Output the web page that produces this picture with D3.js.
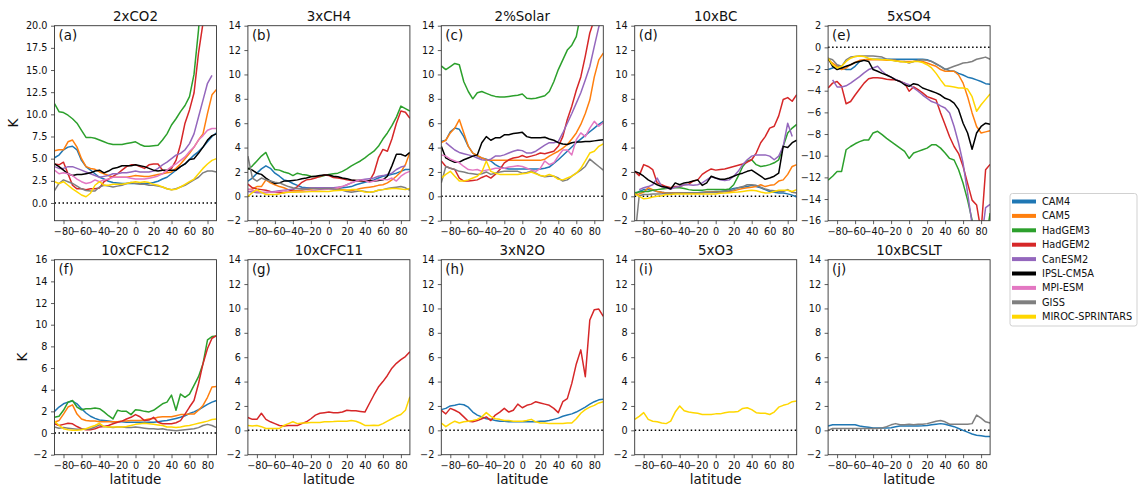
<!DOCTYPE html>
<html lang="en">
<head>
<meta charset="UTF-8" />
<title>Zonal mean temperature response</title>
<script src="https://d3js.org/d3.v7.min.js"></script>
<style>
  body { margin: 0; background: #fff; }
  svg { display: block; font-family: "DejaVu Sans", sans-serif; }
</style>
</head>
<body>
<svg id="chart" width="1139" height="491"></svg>
<script>
// latitude grid (degrees) shared by every series
const lat = [-90,-85,-80,-75,-70,-65,-60,-55,-50,-45,-40,-35,-30,-25,-20,-15,-10,-5,0,5,10,15,20,25,30,35,40,45,50,55,60,65,70,75,80,85,90];

const models = ["CAM4","CAM5","HadGEM3","HadGEM2","CanESM2","IPSL-CM5A","MPI-ESM","GISS","MIROC-SPRINTARS"];
const modelColors = ["#1f77b4","#ff7f0e","#2ca02c","#d62728","#9467bd","#000000","#e377c2","#7f7f7f","#ffd700"];

const xTicks = [-80,-60,-40,-20,0,20,40,60,80];
const yTicksCO2 = [0,2.5,5,7.5,10,12.5,15,17.5,20];
const yTicksStd = [-2,0,2,4,6,8,10,12,14];
const yTicksSO4 = [-16,-14,-12,-10,-8,-6,-4,-2,0,2];
const yTicksCFC12 = [-2,0,2,4,6,8,10,12,14,16];

// (a) 2xCO2
const co2 = {
  "CAM4": [5.1,5.4,6.0,6.3,6.4,6.0,4.8,4.1,3.7, 3.3,2.9,2.7,2.45,2.3,2.25,2.2,2.2,2.2, 2.2,2.2,2.2,2.2,2.3,2.45,2.7,2.9,3.3, 3.7,4.1,4.4,4.9,5.4,5.8,6.3,6.9,7.5,7.9],
  "CAM5": [5.9,6.0,6.0,6.9,7.1,6.3,5.0,4.1,3.9, 3.8,3.5,3.3,3.1,2.9,2.9,2.9,2.9,3.0, 3.1,3.05,3.0,3.0,3.1,3.2,3.3,3.4,3.5, 3.9,4.4,5.0,5.6,6.3,7.1,7.8,10.1,12.2,12.8],
  "HadGEM3": [11.2,10.3,10.2,9.9,9.5,9.0,8.2,7.4,7.4, 7.3,7.1,6.9,6.7,6.6,6.6,6.6,6.7,6.8, 6.9,6.6,6.4,6.4,6.45,6.5,7.1,7.8,8.8, 9.5,10.3,11.0,12.0,14.5,19.5,26,28,30,30],
  "HadGEM2": [4.4,4.3,4.6,3.3,2.0,1.6,1.6,1.5,1.6, 1.6,1.7,2.4,2.7,3.0,3.3,3.7,4.1,4.3, 4.3,4.1,3.9,4.3,4.4,4.4,3.7,3.6,3.9, 4.8,6.6,9.0,10.5,12.4,16.9,20.3,23,25,26],
  "CanESM2": [4.1,3.9,3.9,4.1,4.1,3.9,3.7,3.5,3.3, 3.1,2.9,3.0,3.1,3.3,3.3,3.4,3.4,3.5, 3.6,3.5,3.5,3.5,3.6,3.9,4.3,4.6,5.0, 5.4,5.6,6.0,6.7,7.8,9.7,11.6,13.5,14.4,null],
  "IPSL-CM5A": [4.4,4.1,3.7,3.3,3.1,3.2,3.2,3.3,3.4, 3.6,3.7,3.4,3.6,3.9,4.0,4.2,4.2,4.2, 4.3,4.2,4.1,3.9,3.7,3.6,3.7,3.7,3.7, 3.7,4.1,4.4,4.9,5.0,5.6,6.3,7.1,7.6,7.8],
  "MPI-ESM": [3.7,3.3,3.4,3.3,3.1,2.7,2.4,2.2,2.3, 2.6,2.4,2.6,2.7,2.9,2.9,2.9,2.9,2.8, 2.7,2.7,2.7,2.8,2.9,3.05,3.3,3.7,4.1, 4.4,4.8,5.2,5.8,6.3,7.1,7.6,8.2,8.4,8.4],
  "GISS": [1.4,2.2,2.6,2.4,2.2,1.9,1.6,1.4,1.35, 1.35,1.8,2.0,1.9,1.8,1.9,2.0,2.2,2.3, 2.2,2.1,2.1,2.0,2.0,1.9,1.8,1.6,1.5, 1.6,1.8,2.0,2.3,2.6,2.9,3.4,3.6,3.6,3.5],
  "MIROC-SPRINTARS": [2.4,2.2,2.4,2.0,1.6,1.25,0.9,0.7,1.1, 2.0,2.4,2.0,2.0,2.1,2.1,2.1,2.2,2.3, 2.4,2.3,2.4,2.3,2.1,2.0,1.8,1.6,1.5, 1.55,1.8,2.1,2.4,2.7,3.3,3.9,4.4,4.8,5.0]
};

// (b) 3xCH4
const ch4 = {
  "CAM4": [1.25,1.5,1.9,2.25,2.5,2.3,1.9,1.65,1.35, 1.25,1.05,0.9,0.75,0.7,0.7,0.65,0.65,0.65, 0.65,0.65,0.65,0.7,0.75,0.8,0.95,1.05,1.15, 1.25,1.35,1.5,1.65,1.7,1.8,1.9,2.05,2.2,2.2],
  "CAM5": [0.55,0.6,0.8,0.8,1.35,1.1,0.95,0.8,0.7, 0.55,0.45,0.45,0.5,0.55,0.6,0.65,0.65,0.65, 0.65,0.65,0.6,0.55,0.5,0.45,0.55,0.65,0.7, 0.75,0.8,0.9,0.95,1.1,1.35,1.65,2.0,2.6,3.6],
  "HadGEM3": [2.2,2.5,2.9,3.3,3.6,2.75,2.2,2.15,2.0, 1.9,1.7,1.9,1.8,1.75,1.65,1.6,1.6,1.7, 1.8,1.85,1.9,2.05,2.25,2.5,2.7,2.9,3.15, 3.45,3.7,4.1,4.7,5.2,5.8,6.5,7.4,7.2,7.0],
  "HadGEM2": [1.0,0.7,0.6,0.55,0.5,0.4,0.35,0.3,0.3, 0.4,0.55,0.8,1.15,1.35,1.4,1.5,1.65,1.75, 1.7,1.55,1.5,1.45,1.35,1.3,1.3,1.25,1.25, 1.25,1.9,3.15,3.85,3.7,4.7,6.0,7.0,6.9,6.4],
  "CanESM2": [0.4,0.35,0.3,0.3,0.3,0.35,0.4,0.45,0.5, 0.55,0.6,0.65,0.65,0.65,0.7,0.7,0.7,0.7, 0.7,0.7,0.75,0.8,0.95,1.1,1.25,1.35,1.4, 1.45,1.5,1.65,1.7,1.8,1.9,2.2,2.4,2.5,null],
  "IPSL-CM5A": [2.3,2.15,1.9,1.8,1.5,1.25,1.05,1.1,1.25, 1.25,1.3,1.35,1.45,1.5,1.6,1.65,1.7,1.75, 1.75,1.65,1.6,1.5,1.45,1.35,1.3,1.3,1.25, 1.25,1.25,1.3,1.35,1.65,2.5,3.45,3.45,3.3,3.6],
  "MPI-ESM": [0.6,0.5,0.4,0.35,0.33,0.33,0.35,0.4,0.45, 0.4,0.35,0.38,0.4,0.42,0.45,0.5,0.55,0.55, 0.6,0.6,0.7,0.8,0.95,1.1,1.25,1.35,1.3, 1.15,1.25,1.35,1.4,1.35,1.5,1.25,1.65,1.9,2.05],
  "GISS": [3.3,1.5,1.25,1.5,1.35,1.25,1.15,1.1,0.95, 0.8,0.7,0.65,0.6,0.6,0.65,0.65,0.6,0.65, 0.65,0.6,0.55,0.5,0.4,0.33,0.4,0.45,0.4, 0.33,0.38,0.5,0.55,0.65,0.7,0.75,0.8,0.7,0.5],
  "MIROC-SPRINTARS": [0.0,0.3,0.55,0.33,0.15,0.15,0.15,0.2,0.3, 0.33,0.33,0.35,0.35,0.37,0.4,0.4,0.42,0.4, 0.4,0.45,0.48,0.5,0.5,0.55,0.55,0.45,0.35, 0.33,0.4,0.5,0.55,0.6,0.65,0.65,0.6,0.55,0.65]
};

// (c) 2%Solar
const solar = {
  "CAM4": [4.5,4.6,5.3,5.6,5.5,4.9,4.1,3.55,3.3, 3.15,3.05,2.9,2.6,2.4,2.3,2.25,2.25,2.25, 2.25,2.25,2.25,2.25,2.25,2.3,2.4,2.7,3.0, 3.35,3.7,4.05,4.4,4.7,5.0,5.3,5.6,5.9,6.15],
  "CAM5": [4.4,4.6,5.2,5.6,6.3,5.2,4.1,3.55,3.35, 3.15,3.0,2.95,2.95,2.95,2.95,2.95,2.95,2.95, 2.95,2.95,2.95,2.95,2.95,3.05,3.3,3.5,3.7, 3.95,4.25,4.7,5.2,5.9,6.8,7.9,9.8,11.2,11.75],
  "HadGEM3": [10.7,10.4,10.65,10.9,10.8,9.4,8.6,8.0,8.5, 8.6,8.45,8.3,8.2,8.15,8.15,8.2,8.25,8.3, 8.4,8.05,8.0,8.05,8.15,8.25,8.6,9.4,10.4, 11.2,12.0,12.4,13.1,15,17,19,21,22,23],
  "HadGEM2": [2.9,2.45,2.3,2.2,1.5,1.25,1.25,1.3,1.35, 1.55,1.7,1.5,1.8,2.2,2.75,3.0,3.15,3.2, 3.35,3.2,3.3,3.4,3.55,3.5,3.6,3.7,4.1, 4.9,6.3,7.4,8.7,9.8,11.5,13.4,14.5,16,17],
  "CanESM2": [null,4.4,4.1,3.8,3.6,3.5,3.4,3.3,3.15, 3.0,2.95,3.05,3.3,3.3,3.4,3.55,3.7,3.8, 3.75,3.55,3.55,3.7,3.95,4.2,4.4,4.4,4.5, 5.2,6.0,6.8,7.65,8.5,9.55,10.65,12.3,13.9,15],
  "IPSL-CM5A": [4.1,3.15,2.95,2.8,2.8,3.0,3.15,3.3,3.4, 4.4,4.9,4.6,4.8,4.8,5.05,5.05,5.15,5.2, 5.25,4.9,4.8,4.8,4.8,4.85,4.7,4.6,4.4, 4.3,4.25,4.4,4.45,4.45,4.5,4.5,4.55,4.6,4.65],
  "MPI-ESM": [3.4,3.3,3.05,2.9,2.75,2.45,2.2,2.15,2.2, 2.05,2.15,2.2,2.3,2.3,2.3,2.4,2.45,2.5, 2.45,2.3,2.15,2.05,2.3,2.9,2.6,2.75,3.3, 3.8,3.8,3.4,4.65,5.2,4.9,5.6,6.15,5.75,6.05],
  "GISS": [1.1,2.45,2.3,2.2,2.05,2.0,1.9,1.85,1.8, 1.85,2.0,1.8,1.9,2.0,2.05,2.05,2.05,2.05, 1.9,1.95,2.05,1.9,1.7,1.6,1.65,1.65,1.5, 1.25,1.35,1.65,1.9,2.15,2.45,3.05,2.75,2.45,2.15],
  "MIROC-SPRINTARS": [1.5,1.8,2.05,1.65,1.25,1.25,1.35,1.5,1.65, 2.0,2.9,2.05,1.9,1.8,1.8,1.8,1.8,1.8, 1.85,1.9,2.0,1.85,1.7,1.65,1.8,1.65,1.4, 1.35,1.5,1.65,1.9,2.3,2.9,3.55,3.7,4.1,4.3]
};

// (d) 10xBC
const bc = {
  "CAM4": [0.15,0.4,0.55,0.55,0.5,0.4,0.33,0.27,0.27, 0.27,0.27,0.27,0.27,0.27,0.3,0.33,0.33,0.35, 0.4,0.4,0.45,0.55,0.65,0.7,0.75,0.8,0.9, 0.8,0.7,0.55,0.4,0.33,0.27,0.27,0.2,0.1,-0.05],
  "CAM5": [0.15,0.2,0.33,0.7,0.55,0.4,0.33,0.27,0.27, 0.27,0.27,0.27,0.27,0.27,0.27,0.3,0.35,0.35, 0.35,0.35,0.4,0.4,0.45,0.55,0.65,0.7,0.75, 0.8,0.95,0.8,0.9,0.95,1.25,1.35,1.8,2.45,2.6],
  "HadGEM3": [0.3,0.35,0.4,0.4,0.5,0.55,0.6,0.65,0.7, 0.7,0.7,0.65,0.55,0.5,0.5,0.5,0.55,0.55, 0.55,0.55,0.55,0.6,0.95,1.65,2.45,2.9,3.0, 2.6,2.45,2.5,2.6,2.75,3.0,4.1,5.2,5.6,5.9],
  "HadGEM2": [2.05,1.7,2.6,2.45,2.2,1.1,0.95,0.8,0.7, 0.8,0.8,0.95,1.0,1.25,1.35,1.8,2.05,2.25, 2.15,2.2,2.25,2.35,2.45,2.55,2.65,2.8,3.0, 3.55,4.4,4.9,5.6,5.75,6.6,7.95,8.1,7.8,8.35],
  "CanESM2": [null,0.55,0.7,0.8,0.95,1.5,0.8,0.7,0.6, 0.75,0.8,0.95,0.95,0.9,0.95,1.1,1.35,1.6, 1.5,1.35,1.3,1.35,1.65,2.05,2.6,3.0,3.3, 3.4,3.4,3.4,3.3,3.0,3.3,4.1,6.0,4.9,null],
  "IPSL-CM5A": [2.05,1.9,1.65,1.35,1.15,0.95,0.8,0.75,0.6, 1.1,0.95,1.1,1.15,1.25,1.35,0.9,1.1,1.65, 1.5,1.4,1.4,1.5,1.65,1.8,1.9,2.05,2.15, 1.9,1.65,1.4,1.5,1.65,1.9,4.1,4.0,4.4,4.6],
  "GISS": [-3.5,0.05,0.15,0.15,0.2,0.2,0.22,0.25,0.25, 0.25,0.27,0.27,0.3,0.3,0.3,0.3,0.33,0.33, 0.33,0.35,0.4,0.45,0.55,0.7,0.8,0.95,0.95, 0.9,0.75,0.6,0.5,0.45,0.4,0.4,0.55,0.33,0.27],
  "MIROC-SPRINTARS": [0.2,0.0,-0.2,-0.15,-0.05,0.0,0.05,0.15,0.15, 0.2,0.2,0.2,0.2,0.2,0.2,0.2,0.2,0.2, 0.2,0.25,0.27,0.3,0.33,0.35,0.4,0.45,0.5, 0.45,0.35,0.27,0.3,0.4,0.5,0.5,0.5,0.4,0.55]
};

// (e) 5xSO4
const so4 = {
  "CAM4": [-2.05,-1.9,-1.75,-1.9,-2.05,-2.05,-1.75,-1.3,-1.15, -1.1,-1.1,-1.1,-1.1,-1.1,-1.1,-1.1,-1.1,-1.1, -1.1,-1.1,-1.1,-1.1,-1.15,-1.3,-1.55,-1.75,-2.0, -2.15,-2.2,-2.4,-2.55,-2.75,-2.85,-3.0,-3.15,-3.35,-3.4],
  "CAM5": [-1.15,-1.45,-1.75,-2.05,-1.9,-1.6,-1.4,-1.2,-1.15, -1.15,-1.15,-1.15,-1.15,-1.2,-1.2,-1.2,-1.3,-1.3, -1.3,-1.3,-1.2,-1.3,-1.45,-1.6,-1.75,-2.05,-2.2, -2.2,-2.2,-2.55,-3.3,-4.55,-6.05,-7.3,-7.9,-7.8,-7.7],
  "HadGEM3": [-12.25,-11.9,-11.45,-11.45,-9.45,-9.15,-8.9,-8.7,-8.55, -8.55,-7.9,-7.75,-8.05,-8.4,-8.7,-9.0,-9.3,-9.6, -10.25,-9.75,-9.6,-9.45,-9.3,-9.0,-9.0,-9.3,-9.75, -10.25,-10.4,-11.3,-12.55,-14.1,-15.95,-18,-18,-18,-15.3],
  "HadGEM2": [-3.75,-3.3,-3.15,-3.6,-5.2,-5.0,-4.4,-3.85,-3.3, -2.9,-2.8,-2.8,-2.85,-2.95,-3.0,-3.0,-3.15,-3.3, -4.05,-3.65,-3.9,-4.2,-4.55,-4.7,-4.85,-6.05,-7.15, -8.25,-9.15,-9.8,-11.0,-12.55,-14.1,-14.55,-17,-11.3,-10.8],
  "CanESM2": [null,-3.0,-3.65,-3.65,-3.55,-3.3,-3.0,-2.7,-2.35, -2.05,-1.9,-1.75,-2.2,-2.55,-2.75,-2.95,-3.15,-3.3, -3.45,-3.75,-4.05,-4.4,-4.7,-5.0,-5.15,-5.4,-5.6, -6.05,-7.3,-8.85,-10.7,-13.45,-16.3,-18,-18,-14.8,-14.5],
  "IPSL-CM5A": [-1.0,-1.75,-2.05,-1.9,-1.75,-1.6,-1.4,-1.3,-1.2, -1.3,-2.05,-2.2,-2.4,-2.55,-2.75,-3.0,-3.15,-3.45, -3.6,-3.35,-3.45,-3.75,-3.9,-4.05,-4.2,-4.4,-4.7, -4.85,-5.15,-5.75,-7.0,-7.9,-9.4,-7.9,-7.3,-7.0,-7.1],
  "GISS": [-1.0,-1.15,-1.6,-1.75,-1.15,-0.9,-0.85,-0.8,-0.8, -0.8,-0.8,-0.85,-0.9,-1.1,-1.15,-1.25,-1.3,-1.3, -1.45,-1.3,-1.2,-1.15,-1.2,-1.3,-1.5,-1.75,-2.05, -1.9,-1.75,-1.6,-1.45,-1.4,-1.3,-1.1,-1.0,-0.9,-1.1],
  "MIROC-SPRINTARS": [-1.0,-1.6,-1.9,-1.75,-1.3,-1.0,-0.85,-0.8,-0.85, -1.0,-1.1,-1.1,-1.15,-1.15,-1.2,-1.25,-1.3,-1.35, -1.4,-1.3,-1.3,-1.4,-1.6,-1.9,-2.4,-3.0,-3.55, -3.6,-3.65,-3.75,-3.75,-3.85,-4.55,-5.9,-5.3,-4.8,-4.3]
};

// (f) 10xCFC12
const cfc12 = {
  "CAM4": [2.0,2.4,2.7,2.85,2.95,2.7,2.25,1.85,1.55, 1.35,1.2,1.15,1.1,1.05,1.05,1.05,1.0,1.0, 1.0,1.0,1.0,1.0,1.0,1.05,1.1,1.15,1.25, 1.35,1.45,1.6,1.8,1.95,2.15,2.4,2.65,2.85,3.0],
  "CAM5": [1.0,1.15,1.75,2.4,2.6,1.75,1.3,1.15,1.1, 1.1,1.05,1.05,1.05,1.05,1.05,1.1,1.1,1.15, 1.15,1.15,1.2,1.3,1.35,1.45,1.5,1.5,1.5, 1.6,1.7,1.7,1.75,1.75,2.1,2.55,3.3,4.25,4.3],
  "HadGEM3": [1.45,1.55,2.1,2.85,3.0,2.4,2.15,2.25,2.25, 2.3,2.25,1.95,1.6,1.3,2.1,2.0,2.0,1.7, 2.15,2.1,2.0,1.95,2.1,2.4,2.7,2.85,3.5, 2.1,3.6,3.3,3.6,4.4,5.2,6.4,8.6,8.9,8.95],
  "HadGEM2": [0.85,0.7,0.8,0.9,0.85,0.6,0.4,0.3,0.3, 0.4,0.55,0.6,0.7,0.85,1.0,1.1,1.3,1.45, 1.7,1.5,1.15,1.2,1.45,1.0,0.85,0.85,0.85, 0.95,1.15,1.75,2.4,3.0,4.55,6.4,7.8,8.75,9.0],
  "GISS": [0.55,0.45,0.5,0.45,0.4,0.35,0.35,0.35,0.4, 0.55,0.75,0.6,0.55,0.5,0.55,0.55,0.5,0.5, 0.55,0.5,0.45,0.4,0.4,0.35,0.4,0.3,0.25, 0.2,0.25,0.3,0.35,0.4,0.5,0.7,0.8,0.7,0.5],
  "MIROC-SPRINTARS": [1.1,0.7,0.4,0.3,0.25,0.25,0.3,0.4,0.55, 0.7,0.9,0.6,0.55,0.55,0.55,0.55,0.6,0.7, 0.8,0.85,0.9,0.85,0.8,0.75,0.7,0.55,0.55, 0.5,0.55,0.65,0.7,0.8,0.9,1.0,1.1,1.25,1.3]
};

// (g) 10xCFC11
const cfc11 = {
  "HadGEM2": [1.05,0.9,0.9,1.4,0.9,0.7,0.55,0.4,0.35, 0.4,0.4,0.4,0.55,0.7,0.95,1.25,1.4,1.45, 1.5,1.45,1.45,1.5,1.65,1.6,1.6,1.55,1.5, 2.2,2.9,3.55,4.0,4.5,5.1,5.5,5.8,6.05,6.45],
  "MIROC-SPRINTARS": [0.4,0.35,0.4,0.3,0.15,0.15,0.15,0.15,0.4, 0.55,0.7,0.55,0.6,0.6,0.65,0.65,0.65,0.7, 0.7,0.72,0.75,0.75,0.75,0.8,0.75,0.6,0.4, 0.4,0.42,0.4,0.55,0.75,0.95,1.15,1.3,1.65,2.75]
};

// (h) 3xN2O
const n2o = {
  "CAM4": [1.7,1.8,2.0,2.05,2.15,2.1,1.9,1.5,1.25, 1.1,0.95,0.9,0.8,0.75,0.75,0.7,0.7,0.7, 0.7,0.7,0.7,0.7,0.75,0.75,0.8,0.9,1.0, 1.15,1.25,1.35,1.5,1.7,1.9,2.15,2.35,2.5,2.55],
  "HadGEM2": [1.65,1.35,1.8,1.65,1.45,1.1,0.75,0.7,0.8, 0.95,1.1,0.8,1.25,1.5,1.8,1.5,1.65,2.15, 1.85,2.05,2.15,2.35,2.25,2.15,2.05,1.8,1.45, 2.35,2.6,3.85,5.45,6.6,4.4,9.05,9.9,9.95,9.35],
  "MIROC-SPRINTARS": [0.6,0.3,0.55,0.75,0.6,0.7,0.75,0.8,0.9, 1.1,1.45,1.15,0.95,0.9,0.8,0.8,0.75,0.75, 0.75,0.8,0.9,0.7,0.6,0.6,0.55,0.55,0.55, 0.57,0.6,0.6,0.95,1.4,1.7,1.9,2.05,2.25,2.35]
};

// (i) 5xO3
const o3 = {
  "MIROC-SPRINTARS": [0.9,1.15,1.45,0.9,0.75,0.7,0.6,0.55,0.75, 1.5,2.0,1.6,1.5,1.45,1.4,1.3,1.3,1.3, 1.35,1.35,1.45,1.5,1.5,1.55,1.8,1.85,1.7, 1.45,1.4,1.4,1.3,1.5,1.9,2.05,2.15,2.35,2.4]
};

// (j) 10xBCSLT
const bcslt = {
  "CAM4": [0.35,0.45,0.45,0.45,0.45,0.45,0.45,0.35,0.3, 0.25,0.2,0.2,0.2,0.2,0.22,0.3,0.35,0.35, 0.35,0.35,0.35,0.37,0.4,0.45,0.5,0.55,0.5, 0.4,0.3,0.15,0.0,-0.15,-0.3,-0.4,-0.45,-0.5,-0.5],
  "GISS": [0.0,0.15,0.15,0.15,0.15,0.15,0.15,0.15,0.15, 0.15,0.15,0.15,0.2,0.3,0.45,0.55,0.45,0.45, 0.5,0.45,0.5,0.5,0.55,0.65,0.75,0.8,0.7, 0.5,0.5,0.5,0.5,0.5,0.55,1.25,1.0,0.7,0.6]
};

const panels = [
  { title: "2xCO2", tag: "(a)", data: co2, yDomain: [-2, 20], yTicks: yTicksCO2, fmt: ".1f" },
  { title: "3xCH4", tag: "(b)", data: ch4, yDomain: [-2, 14], yTicks: yTicksStd, fmt: "d" },
  { title: "2%Solar", tag: "(c)", data: solar, yDomain: [-2, 14], yTicks: yTicksStd, fmt: "d" },
  { title: "10xBC", tag: "(d)", data: bc, yDomain: [-2, 14], yTicks: yTicksStd, fmt: "d" },
  { title: "5xSO4", tag: "(e)", data: so4, yDomain: [-16, 2], yTicks: yTicksSO4, fmt: "d" },
  { title: "10xCFC12", tag: "(f)", data: cfc12, yDomain: [-2, 16], yTicks: yTicksCFC12, fmt: "d" },
  { title: "10xCFC11", tag: "(g)", data: cfc11, yDomain: [-2, 14], yTicks: yTicksStd, fmt: "d" },
  { title: "3xN2O", tag: "(h)", data: n2o, yDomain: [-2, 14], yTicks: yTicksStd, fmt: "d" },
  { title: "5xO3", tag: "(i)", data: o3, yDomain: [-2, 14], yTicks: yTicksStd, fmt: "d" },
  { title: "10xBCSLT", tag: "(j)", data: bcslt, yDomain: [-2, 14], yTicks: yTicksStd, fmt: "d" }
];

const svg = d3.select("#chart");
const color = d3.scaleOrdinal().domain(models).range(modelColors);

const pw = 162, ph = 195;
const colLeft = [54.5, 247.9, 441.3, 634.7, 828.1];
const rowTop = [25.7, 259.7];

panels.forEach((p, i) => {
  const col = i % 5, row = Math.floor(i / 5);
  const g = svg.append("g")
    .attr("transform", `translate(${colLeft[col]},${rowTop[row]})`);

  const x = d3.scaleLinear().domain([-90, 90]).range([0, pw]);
  const y = d3.scaleLinear().domain(p.yDomain).range([ph, 0]);

  g.append("clipPath").attr("id", "clip" + i)
    .append("rect").attr("width", pw).attr("height", ph);

  const plot = g.append("g").attr("clip-path", `url(#clip${i})`);

  plot.append("line")
    .attr("x1", 0).attr("x2", pw)
    .attr("y1", y(0)).attr("y2", y(0))
    .attr("stroke", "#000")
    .attr("stroke-width", 1.5)
    .attr("stroke-dasharray", "1.5,2.5");

  const line = d3.line()
    .defined(d => d[1] != null)
    .x(d => x(d[0]))
    .y(d => y(d[1]));

  models.filter(m => p.data[m]).forEach(m => {
    plot.append("path")
      .datum(lat.map((l, k) => [l, p.data[m][k]]))
      .attr("fill", "none")
      .attr("stroke", color(m))
      .attr("stroke-width", 1.5)
      .attr("stroke-linejoin", "round")
      .attr("d", line);
  });

  g.append("rect")
    .attr("width", pw).attr("height", ph)
    .attr("fill", "none")
    .attr("stroke", "#333")
    .attr("stroke-width", 0.9);

  const xAxis = g.append("g")
    .attr("transform", `translate(0,${ph})`)
    .call(d3.axisBottom(x).tickValues(xTicks).tickSize(3.5).tickSizeOuter(0).tickPadding(3.5));
  const yAxis = g.append("g")
    .call(d3.axisLeft(y).tickValues(p.yTicks).tickFormat(d3.format(p.fmt))
      .tickSize(3.5).tickSizeOuter(0).tickPadding(3.5));
  [xAxis, yAxis].forEach(a => {
    a.select(".domain").remove();
    a.selectAll(".tick line").attr("stroke", "#333").attr("stroke-width", 0.8);
    a.selectAll(".tick text")
      .attr("fill", "#111")
      .style("font-family", "DejaVu Sans")
      .style("font-size", "9.7px");
  });

  g.append("text")
    .attr("x", pw / 2).attr("y", -5)
    .attr("text-anchor", "middle")
    .style("font-size", "13.4px")
    .attr("fill", "#111")
    .text(p.title);

  g.append("text")
    .attr("x", 4).attr("y", 14)
    .style("font-size", "13.4px")
    .attr("fill", "#111")
    .text(p.tag);

  if (col === 0) {
    g.append("text")
      .attr("transform", `translate(${row === 0 ? -36.5 : -28},${ph / 2}) rotate(-90)`)
      .attr("text-anchor", "middle")
      .style("font-size", "13.5px")
      .attr("fill", "#111")
      .text("K");
  }
  if (row === 1) {
    g.append("text")
      .attr("x", pw / 2).attr("y", ph + 29)
      .attr("text-anchor", "middle")
      .style("font-size", "13.5px")
      .attr("fill", "#111")
      .text("latitude");
  }
});

// legend
const legend = svg.append("g").attr("transform", "translate(1010,193.5)");
legend.append("rect")
  .attr("width", 127).attr("height", 132.5)
  .attr("rx", 2.5)
  .attr("fill", "#fff")
  .attr("stroke", "#cccccc")
  .attr("stroke-width", 0.9);

const item = legend.selectAll(".item")
  .data(models)
  .enter()
  .append("g")
  .classed("item", true)
  .attr("transform", (d, k) => `translate(0,${8 + k * 14.4})`);

item.append("line")
  .attr("x1", 2).attr("x2", 26)
  .attr("stroke", d => color(d))
  .attr("stroke-width", 4);

item.append("text")
  .attr("x", 32).attr("dy", "0.35em")
  .style("font-size", "9.8px")
  .attr("fill", "#111")
  .text(d => d);
</script>
</body>
</html>
